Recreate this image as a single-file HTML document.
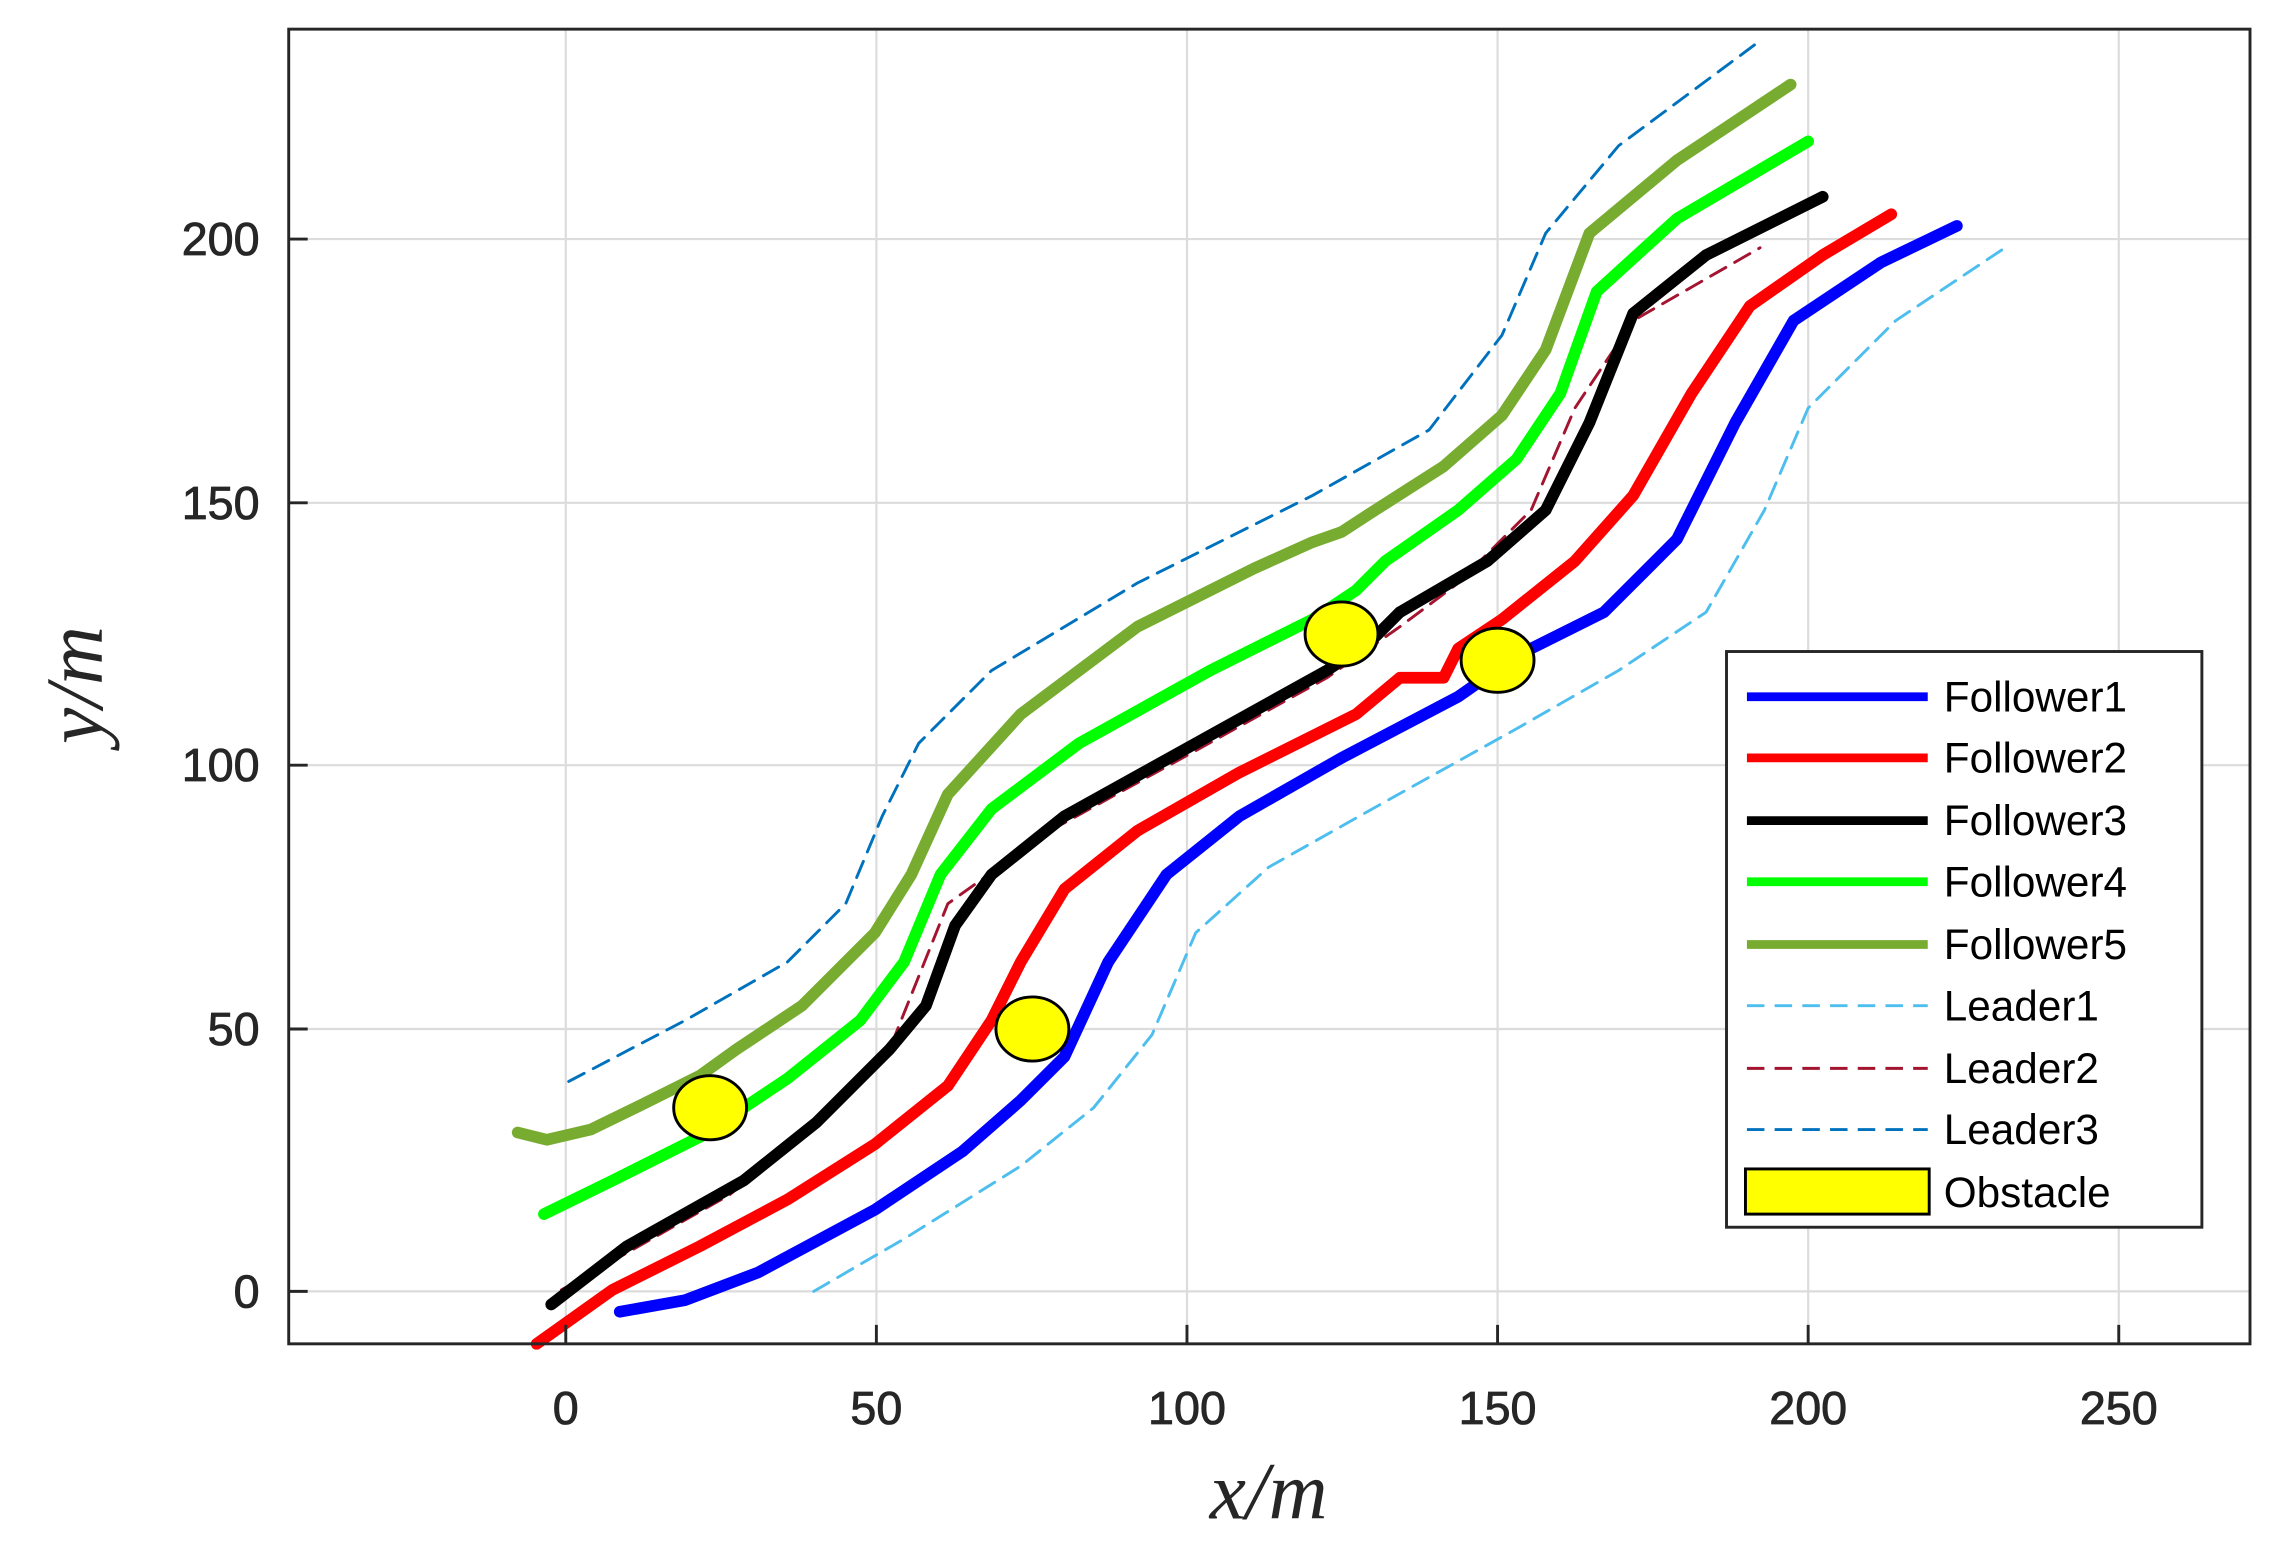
<!DOCTYPE html>
<html><head><style>html,body{margin:0;padding:0;background:#fff}</style></head>
<body>
<svg xmlns="http://www.w3.org/2000/svg" width="2285" height="1561" viewBox="0 0 1567 1071" preserveAspectRatio="none">
<rect width="1567" height="1071" fill="#fff"/>
<g stroke="#dcdcdc" stroke-width="1.5">
<line x1="388" y1="20" x2="388" y2="922"/><line x1="601" y1="20" x2="601" y2="922"/>
<line x1="814" y1="20" x2="814" y2="922"/><line x1="1027" y1="20" x2="1027" y2="922"/>
<line x1="1240" y1="20" x2="1240" y2="922"/><line x1="1453" y1="20" x2="1453" y2="922"/>
<line x1="198" y1="886" x2="1543" y2="886"/><line x1="198" y1="706" x2="1543" y2="706"/>
<line x1="198" y1="525" x2="1543" y2="525"/><line x1="198" y1="345" x2="1543" y2="345"/>
<line x1="198" y1="164" x2="1543" y2="164"/>
</g>
<g fill="none" stroke-linejoin="round" stroke-linecap="round">
<polyline stroke="#4dbeee" stroke-width="2" stroke-dasharray="12,7" points="558,886 620,850 700,800 750,760 790,710 820,640 870,595 950,550 1040,500 1110,460 1170,420 1210,350 1240,280 1300,220 1378,168"/>
<polyline stroke="#a2142f" stroke-width="2" stroke-dasharray="12,7" points="385,885 500,820 560,770 610,720 650,620 720,570 820,515 910,465 960,430 1000,400 1050,350 1080,280 1120,220 1207,170"/>
<polyline stroke="#0072bd" stroke-width="2" stroke-dasharray="12,7" points="390,742 470,700 540,660 580,620 605,560 630,510 680,460 780,400 900,340 980,295 1030,230 1060,160 1110,100 1207,28"/>
<polyline stroke="#0000ff" stroke-width="8" points="425,900 470,892 520,873 600,830 660,790 700,755 730,725 760,660 800,600 850,560 920,520 1000,478 1040,450 1100,420 1150,370 1190,290 1230,220 1290,180 1342,155"/>
<polyline stroke="#ff0000" stroke-width="8" points="368,922 420,885 480,855 540,823 600,785 650,745 680,700 700,660 730,610 780,570 850,530 930,490 960,465 990,465 1000,445 1030,425 1080,385 1120,340 1160,270 1200,210 1250,175 1297,147"/>
<polyline stroke="#000000" stroke-width="8" points="378,895 430,855 510,810 560,770 610,720 635,690 655,635 680,600 730,560 820,510 910,460 940,440 960,420 1020,385 1060,350 1090,290 1120,215 1170,175 1250,135"/>
<polyline stroke="#00ff00" stroke-width="8" points="373,833 420,810 480,780 540,740 590,700 620,660 645,600 680,555 740,510 830,460 900,425 930,405 950,385 1000,350 1040,315 1070,270 1095,200 1150,150 1240,97"/>
<polyline stroke="#77ac30" stroke-width="8" points="355,777 375,782 405,775 440,758 480,738 505,720 550,690 600,640 625,600 650,545 700,490 780,430 860,390 900,372 920,365 940,352 990,320 1030,285 1060,240 1090,160 1150,110 1228,58"/>
</g>
<g fill="#ffff00" stroke="#000" stroke-width="2">
<ellipse cx="487" cy="760" rx="25" ry="22"/><ellipse cx="708" cy="706" rx="25" ry="22"/>
<ellipse cx="920" cy="435" rx="25" ry="22"/><ellipse cx="1027" cy="453" rx="25" ry="22"/>
</g>
<rect x="198" y="20" width="1345" height="902" fill="none" stroke="#262626" stroke-width="2"/>
<g stroke="#262626" stroke-width="2">
<line x1="388" y1="922" x2="388" y2="909"/><line x1="601" y1="922" x2="601" y2="909"/><line x1="814" y1="922" x2="814" y2="909"/><line x1="1027" y1="922" x2="1027" y2="909"/><line x1="1240" y1="922" x2="1240" y2="909"/><line x1="1453" y1="922" x2="1453" y2="909"/>
<line x1="198" y1="886" x2="211" y2="886"/><line x1="198" y1="706" x2="211" y2="706"/><line x1="198" y1="525" x2="211" y2="525"/><line x1="198" y1="345" x2="211" y2="345"/><line x1="198" y1="164" x2="211" y2="164"/>
</g>
<g font-family="Liberation Sans, sans-serif" font-size="32" fill="#262626" stroke="#262626" stroke-width="0.6">
<g text-anchor="middle">
<text x="388" y="977">0</text><text x="601" y="977">50</text><text x="814" y="977">100</text><text x="1027" y="977">150</text><text x="1240" y="977">200</text><text x="1453" y="977">250</text>
</g>
<g text-anchor="end">
<text x="178" y="897">0</text><text x="178" y="717">50</text><text x="178" y="536">100</text><text x="178" y="356">150</text><text x="178" y="175">200</text>
</g>
</g>
<text x="870" y="1042" text-anchor="middle" font-family="Liberation Serif, serif" font-style="italic" font-size="56" fill="#262626">x/m</text>
<text transform="translate(70,470) rotate(-90)" text-anchor="middle" font-family="Liberation Serif, serif" font-style="italic" font-size="56" fill="#262626">y/m</text>
<rect x="1184" y="447" width="326" height="395" fill="#fff" stroke="#262626" stroke-width="2"/>
<g stroke-width="6">
<line x1="1198" y1="478" x2="1322" y2="478" stroke="#0000ff"/>
<line x1="1198" y1="520" x2="1322" y2="520" stroke="#ff0000"/>
<line x1="1198" y1="563" x2="1322" y2="563" stroke="#000"/>
<line x1="1198" y1="605" x2="1322" y2="605" stroke="#00ff00"/>
<line x1="1198" y1="648" x2="1322" y2="648" stroke="#77ac30"/>
</g>
<g stroke-width="2" stroke-dasharray="12,7">
<line x1="1198" y1="690" x2="1322" y2="690" stroke="#4dbeee"/>
<line x1="1198" y1="733" x2="1322" y2="733" stroke="#a2142f"/>
<line x1="1198" y1="775" x2="1322" y2="775" stroke="#0072bd"/>
</g>
<rect x="1197" y="802" width="126" height="31" fill="#ffff00" stroke="#000" stroke-width="2"/>
<g font-family="Liberation Sans, sans-serif" font-size="29" fill="#000">
<text x="1333" y="488">Follower1</text><text x="1333" y="530">Follower2</text><text x="1333" y="573">Follower3</text>
<text x="1333" y="615">Follower4</text><text x="1333" y="658">Follower5</text><text x="1333" y="700">Leader1</text>
<text x="1333" y="743">Leader2</text><text x="1333" y="785">Leader3</text><text x="1333" y="828">Obstacle</text>
</g>
</svg>
</body></html>
